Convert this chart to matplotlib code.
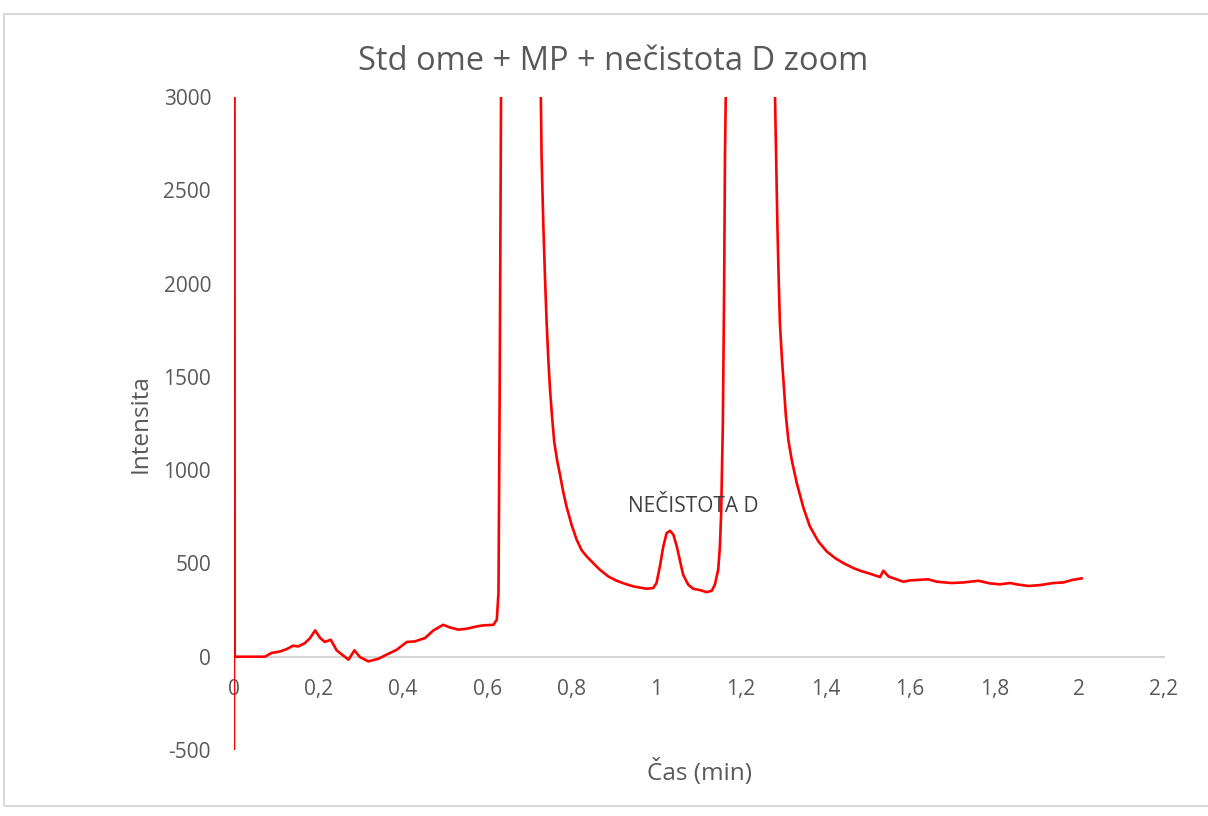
import matplotlib
matplotlib.use("Agg")
import matplotlib.pyplot as plt
from matplotlib.patches import Rectangle
from matplotlib.ticker import FuncFormatter

#===== DATA =====#
# retention time (min) and detector response
cas = [0.0, 0.0, 0.001, 0.073, 0.089, 0.109, 0.125, 0.140, 0.152, 0.168, 0.180,
       0.192, 0.204, 0.215, 0.229, 0.243, 0.259, 0.271, 0.285, 0.298, 0.318,
       0.342, 0.361, 0.385, 0.409, 0.428, 0.452, 0.472, 0.495, 0.511, 0.531,
       0.551, 0.574, 0.590, 0.614, 0.622, 0.626, 0.629, 0.632, 0.636,
       0.680,
       0.724, 0.728, 0.732, 0.736, 0.740, 0.744, 0.748, 0.753, 0.758, 0.765,
       0.772, 0.779, 0.787, 0.799, 0.811, 0.823, 0.835, 0.850, 0.866, 0.886,
       0.906, 0.925, 0.945, 0.977, 0.992, 1.000, 1.008, 1.016, 1.024, 1.032,
       1.040, 1.048, 1.056, 1.063, 1.075, 1.087, 1.103, 1.119, 1.131, 1.138,
       1.146, 1.150, 1.153, 1.157, 1.160, 1.162, 1.165,
       1.220,
       1.278, 1.283, 1.286, 1.289, 1.292, 1.297, 1.302, 1.306, 1.312, 1.320,
       1.332, 1.348, 1.363, 1.383, 1.403, 1.4225, 1.442, 1.466,
       1.482, 1.505, 1.529, 1.537, 1.549, 1.584, 1.600, 1.643, 1.663, 1.698,
       1.726, 1.762, 1.789, 1.813, 1.837, 1.852, 1.880, 1.908, 1.939, 1.963,
       1.983, 2.006]
intenzita = [-1500, 6000, 0, 0, 20, 28, 41, 59, 55, 73, 100,
             141, 100, 79, 91, 34, 5, -16, 34, -2, -25,
             -11, 11, 37, 79, 82, 100, 141, 171, 157, 145,
             150, 162, 168, 171, 198, 343, 1500, 3000, 3800,
             9000,
             3400, 2680, 2323, 2037, 1788, 1591, 1430, 1280, 1150, 1050,
             970, 886, 805, 707, 627, 570, 537, 502, 466, 430,
             407, 391, 377, 364, 368, 395, 484, 591, 663, 675,
             654, 591, 511, 439, 386, 364, 357, 346, 354, 386,
             466, 591, 770, 1252, 1966, 2680, 3200,
             8000,
             3300, 2680, 2323, 2037, 1788, 1591, 1430, 1296, 1162, 1055,
             930, 796, 698, 618, 564, 529, 502, 475,
             461, 445, 427, 461, 430, 402, 409, 415, 402, 395,
             398, 407, 393, 388, 395, 388, 379, 384, 395, 398,
             411, 420]

x_ticks = [0, 0.2, 0.4, 0.6, 0.8, 1.0, 1.2, 1.4, 1.6, 1.8, 2.0, 2.2]
y_ticks = [-500, 0, 500, 1000, 1500, 2000, 2500, 3000]

plt.rcParams['font.family'] = ['Open Sans', 'DejaVu Sans']
plt.rcParams['axes.unicode_minus'] = False
grey = '#595959'

fig = plt.figure(figsize=(12.08, 8.16), dpi=100)
ax = fig.add_axes([0.1937, 0.0809, 0.7695, 0.8002])

ax.plot(cas, intenzita, color='#ff0000', linewidth=1.9,
        solid_joinstyle='round', clip_on=True)

ax.set_xlim(0, 2.2)
ax.set_ylim(-500, 3000)
ax.set_xticks(x_ticks)
ax.set_yticks(y_ticks)

def comma(v, pos):
    s = '{:g}'.format(round(v, 1))
    return s.replace('.', ',')

ax.xaxis.set_major_formatter(FuncFormatter(comma))
ax.tick_params(axis='both', length=0, labelsize=15, labelcolor=grey)
ax.tick_params(axis='y', pad=16.5)
ax.tick_params(axis='x', pad=16)

for side in ['top', 'right', 'left']:
    ax.spines[side].set_visible(False)
ax.spines['bottom'].set_position(('data', 0))
ax.spines['bottom'].set_color('#d0d0d0')
ax.spines['bottom'].set_linewidth(1.3)
ax.spines['bottom'].set_zorder(0)

fig.text(613 / 1208, 1 - 61 / 816, 'Std ome + MP + nečistota D zoom',
         fontsize=23.5, color=grey, ha='center', va='center')
ax.set_ylabel('Intensita', fontsize=17.5, color=grey)
ax.yaxis.set_label_coords(-0.1, 0.5)
ax.set_xlabel('Čas (min)', fontsize=17.5, color=grey)
ax.xaxis.set_label_coords(0.5003, -0.034)
ax.xaxis.label.set_va('center')
ax.yaxis.label.set_va('center')

ax.text(1.088, 806, 'NEČISTOTA D', fontsize=15, color='#404040', ha='center', va='center')

# outer chart frame
fig.patches.append(Rectangle((0.0029, 1 - 806 / 816), 1.2, (806 - 14) / 816,
                             transform=fig.transFigure, fill=False,
                             edgecolor='#d9d9d9', linewidth=1.5))

fig.savefig('out.png', dpi=100)
